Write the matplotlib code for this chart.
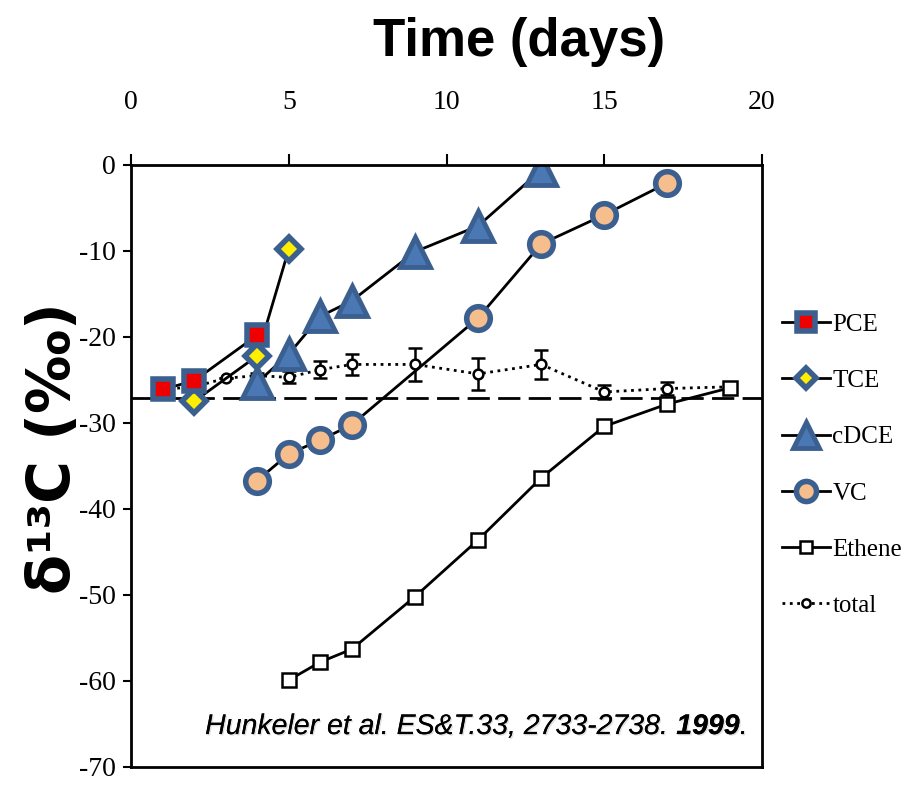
import matplotlib
matplotlib.use("Agg")
import matplotlib.pyplot as plt
import matplotlib.patheffects as pe
import numpy as np

# Data (days, delta13C permil)
pce_t = [1, 2, 4]
pce_d = [-26.1, -25.1, -19.8]

tce_t = [2, 4, 5]
tce_d = [-27.5, -22.2, -9.8]

cdce_t = [4, 5, 6, 7, 9, 11, 13]
cdce_d = [-25.3, -22.0, -17.6, -15.8, -10.1, -7.1, -0.6]

vc_t = [4, 5, 6, 7, 11, 13, 15, 17]
vc_d = [-36.7, -33.6, -32.0, -30.2, -17.8, -9.2, -5.8, -2.1]

eth_t = [5, 6, 7, 9, 11, 13, 15, 17, 19]
eth_d = [-59.9, -57.8, -56.3, -50.2, -43.6, -36.4, -30.4, -27.8, -25.9]

tot_t = [1, 2, 3, 4, 5, 6, 7, 9, 11, 13, 15, 17, 19]
tot_d = [-26.1, -25.8, -24.8, -24.5, -24.7, -23.8, -23.2, -23.2, -24.3, -23.2, -26.4, -26.0, -25.8]
tot_err = [0, 0, 0, 0.3, 0.7, 1.0, 1.2, 1.9, 1.9, 1.7, 0.8, 0.8, 0.4]

ref_level = -27.1

blue = "#3b6090"
serif = "Liberation Serif"
plt.rcParams["axes.unicode_minus"] = False

fig = plt.figure(figsize=(9.24, 7.86), dpi=100)
ax = fig.add_axes([0.1418, 0.0242, 0.6829, 0.766])

ax.axhline(ref_level, color="black", lw=2, ls=(0, (8, 3)))

ax.errorbar(tot_t, tot_d, yerr=tot_err, fmt="none", ecolor="black",
            capsize=5, elinewidth=1.8, capthick=1.8)
ax.plot(tot_t, tot_d, ":o", color="black", lw=2, ms=7, mfc="white",
        mec="black", mew=1.8, label="total")
ax.plot(eth_t, eth_d, "-s", color="black", lw=2, ms=10, mfc="white", mec="black",
        mew=1.8, label="Ethene")
ax.plot(vc_t, vc_d, "-o", color="black", lw=2, ms=17, mfc="#f7be8d", mec=blue,
        mew=4, label="VC")
ax.plot(cdce_t, cdce_d, "-^", color="black", lw=2, ms=22, mfc="#4a78b4", mec=blue,
        mew=3.5, label="cDCE")
ax.plot(tce_t, tce_d, "-D", color="black", lw=2, ms=12, mfc="#ffee00", mec=blue,
        mew=4, label="TCE")
ax.plot(pce_t, pce_d, "-s", color="black", lw=2, ms=15, mfc="#ee0000", mec=blue,
        mew=4, label="PCE")

ax.set_xlim(0, 20)
ax.set_ylim(-70, 0)
ax.set_xticks([0, 5, 10, 15, 20])
ax.set_yticks(np.arange(-70, 1, 10))
ax.xaxis.tick_top()
ax.tick_params(axis="x", direction="out", length=8, width=1.5, pad=28)
ax.tick_params(axis="y", direction="out", length=6, width=1.5, pad=5)
ax.tick_params(bottom=False, labelbottom=False)
for lab in ax.get_xticklabels() + ax.get_yticklabels():
    lab.set_fontfamily(serif)
    lab.set_fontsize(20)
for s in ax.spines.values():
    s.set_linewidth(2)

fig.text(0.562, 0.947, "Time (days)", ha="center", va="center",
         fontsize=38, fontweight="bold", family="Liberation Sans")
fig.text(0.058, 0.43, "δ¹³C (‰)", ha="center", va="center", rotation=90,
         fontsize=42, fontweight="bold", family="DejaVu Sans")

# citation, with bold year
shadow = [pe.withSimplePatchShadow(offset=(1, -1), alpha=0.12), pe.Normal()]
cite = "Hunkeler et al. ES&T.33, 2733-2738. "
cy = 0.075
fs = 20.5
t1 = fig.text(0.222, cy, cite, fontsize=fs, style="italic",
              family="Liberation Sans", va="center", path_effects=shadow)
fig.canvas.draw()
bb = t1.get_window_extent()
x_end = fig.transFigure.inverted().transform((bb.x1, bb.y0))[0]
t2 = fig.text(x_end, cy, "1999", fontsize=fs, style="italic", fontweight="bold",
              family="Liberation Sans", va="center", path_effects=shadow)
fig.canvas.draw()
bb2 = t2.get_window_extent()
x_end2 = fig.transFigure.inverted().transform((bb2.x1, bb2.y0))[0]
fig.text(x_end2, cy, ".", fontsize=fs, style="italic",
         family="Liberation Sans", va="center", path_effects=shadow)

handles, labels = ax.get_legend_handles_labels()
order = ["PCE", "TCE", "cDCE", "VC", "Ethene", "total"]
hmap = dict(zip(labels, handles))
leg = fig.legend([hmap[k] for k in order], order, loc="upper left",
                 bbox_to_anchor=(0.836, 0.614), frameon=False,
                 prop={"family": serif, "size": 18}, handlelength=1.9,
                 handletextpad=0.1, labelspacing=1.35, borderaxespad=0)
for h in leg.legend_handles:
    h.set_markersize(h.get_markersize() * 0.85)

fig.savefig("out.png", dpi=100)
